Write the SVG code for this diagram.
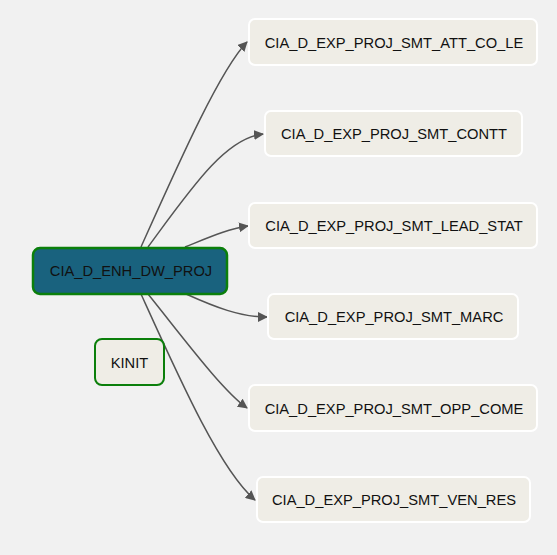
<svg xmlns="http://www.w3.org/2000/svg" width="557" height="555" viewBox="0 0 557 555">
<defs>
<marker id="arr" viewBox="0 0 10 10" refX="9" refY="5" markerWidth="10" markerHeight="10" markerUnits="userSpaceOnUse" orient="auto">
<path d="M0,0 L10,5 L0,10 z" fill="#555"/>
</marker>
<style>
.edge{fill:none;stroke:#555;stroke-width:1.5;marker-end:url(#arr)}
.n rect{fill:#efede6;stroke:#fff;stroke-width:2}
.n text{font-family:"Liberation Sans",Arial,sans-serif;font-size:14.7px;fill:#111;text-anchor:middle;dominant-baseline:central}
.main rect{fill:#19627e;stroke:#0b7f0b;stroke-width:2.5}
.k rect{fill:#efede6;stroke:#0b7f0b;stroke-width:2}
</style>
</defs>
<rect width="557" height="555" fill="#f1f1f1"/>
<g id="edges">
<path class="edge" d="M141,247 C180,160 220,70 247,42"/>
<path class="edge" d="M148,247 C190,190 225,138 263,134"/>
<path class="edge" d="M185,247 C210,237 228,229 248,226"/>
<path class="edge" d="M186,294 C215,307 240,317 267,317"/>
<path class="edge" d="M148,294 C185,340 222,390 247,408"/>
<path class="edge" d="M141,294 C180,380 220,470 255,500"/>
</g>
<g id="n_main" class="n main"><rect x="33" y="248" width="194" height="46" rx="7"/><text x="131" y="271">CIA_D_ENH_DW_PROJ</text></g>
<g id="n_kinit" class="n k"><rect x="95" y="339" width="69" height="46" rx="7"/><text x="129.5" y="363">KINIT</text></g>
<g id="n_att" class="n"><rect x="249" y="19" width="288" height="46" rx="6"/><text x="394" y="43">CIA_D_EXP_PROJ_SMT_ATT_CO_LE</text></g>
<g id="n_contt" class="n"><rect x="265" y="111" width="257" height="45" rx="6"/><text x="394" y="134">CIA_D_EXP_PROJ_SMT_CONTT</text></g>
<g id="n_lead" class="n"><rect x="249" y="203" width="288" height="45" rx="6"/><text x="394" y="226">CIA_D_EXP_PROJ_SMT_LEAD_STAT</text></g>
<g id="n_marc" class="n"><rect x="268" y="294" width="250" height="45" rx="6"/><text x="394" y="317">CIA_D_EXP_PROJ_SMT_MARC</text></g>
<g id="n_opp" class="n"><rect x="249" y="385" width="288" height="46" rx="6"/><text x="394" y="409">CIA_D_EXP_PROJ_SMT_OPP_COME</text></g>
<g id="n_ven" class="n"><rect x="257" y="477" width="273" height="45" rx="6"/><text x="394" y="500">CIA_D_EXP_PROJ_SMT_VEN_RES</text></g>
</svg>
